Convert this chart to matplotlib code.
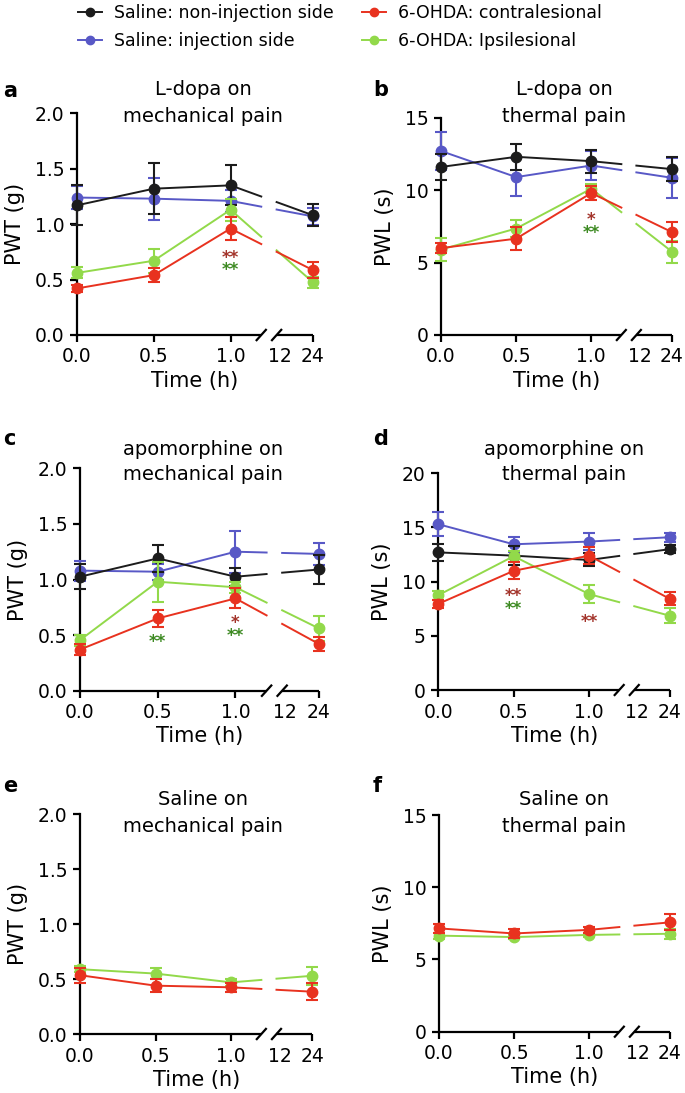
import matplotlib
matplotlib.use("Agg")
import matplotlib.pyplot as plt
import numpy as np

plt.rcParams['font.family'] = ['DejaVu Sans']

# ---- data (mean, SEM) ----
time_h = [0, 0.5, 1, 24]

# a: L-dopa, mechanical (PWT, g)
a_sal_non = [1.17, 1.32, 1.35, 1.08]
a_sal_non_err = [0.18, 0.23, 0.18, 0.10]
a_sal_inj = [1.24, 1.23, 1.21, 1.07]
a_sal_inj_err = [0.10, 0.19, 0.10, 0.08]
a_contra = [0.42, 0.54, 0.96, 0.585]
a_contra_err = [0.03, 0.06, 0.10, 0.07]
a_ipsi = [0.56, 0.67, 1.13, 0.475]
a_ipsi_err = [0.05, 0.11, 0.10, 0.05]

# b: L-dopa, thermal (PWL, s)
b_sal_non = [11.6, 12.3, 12.0, 11.45]
b_sal_non_err = [0.9, 0.9, 0.8, 0.85]
b_sal_inj = [12.7, 10.9, 11.7, 10.85]
b_sal_inj_err = [1.3, 1.3, 1.0, 1.4]
b_contra = [6.0, 6.65, 9.8, 7.1]
b_contra_err = [0.35, 0.8, 0.5, 0.7]
b_ipsi = [5.9, 7.35, 10.1, 5.75]
b_ipsi_err = [0.8, 0.6, 0.3, 0.75]

# c: apomorphine, mechanical
c_sal_non = [1.025, 1.19, 1.025, 1.09]
c_sal_non_err = [0.11, 0.12, 0.08, 0.13]
c_sal_inj = [1.08, 1.07, 1.25, 1.23]
c_sal_inj_err = [0.09, 0.07, 0.19, 0.10]
c_contra = [0.37, 0.65, 0.83, 0.42]
c_contra_err = [0.05, 0.08, 0.09, 0.06]
c_ipsi = [0.455, 0.98, 0.93, 0.56]
c_ipsi_err = [0.05, 0.18, 0.05, 0.11]

# d: apomorphine, thermal
d_sal_non = [12.7, 12.4, 12.0, 13.0]
d_sal_non_err = [0.8, 0.9, 0.6, 0.4]
d_sal_inj = [15.3, 13.45, 13.7, 14.1]
d_sal_inj_err = [1.1, 0.7, 0.8, 0.4]
d_contra = [7.95, 11.0, 12.4, 8.4]
d_contra_err = [0.4, 0.8, 0.8, 0.6]
d_ipsi = [8.75, 12.35, 8.85, 6.85]
d_ipsi_err = [0.4, 0.5, 0.8, 0.7]

# e: saline, mechanical
e_contra = [0.535, 0.44, 0.425, 0.385]
e_contra_err = [0.07, 0.06, 0.04, 0.08]
e_ipsi = [0.59, 0.55, 0.47, 0.53]
e_ipsi_err = [0.03, 0.05, 0.03, 0.08]

# f: saline, thermal
f_contra = [7.15, 6.8, 7.05, 7.57]
f_contra_err = [0.3, 0.3, 0.2, 0.55]
f_ipsi = [6.65, 6.55, 6.7, 6.78]
f_ipsi_err = [0.2, 0.15, 0.15, 0.35]

# significance marks: (x time, y, text, group)
a_stars = [(1, 0.74, '**', 'contra'), (1, 0.63, '**', 'ipsi')]
b_stars = [(1, 8.3, '*', 'contra'), (1, 7.36, '**', 'ipsi')]
c_stars = [(0.5, 0.48, '**', 'ipsi'), (1, 0.65, '*', 'contra'), (1, 0.54, '**', 'ipsi')]
d_stars = [(0.5, 9.15, '**', 'contra'), (0.5, 7.95, '**', 'ipsi'), (1, 6.77, '**', 'contra')]

legend_labels = ['Saline: non-injection side', 'Saline: injection side',
                 '6-OHDA: contralesional', '6-OHDA: Ipsilesional']

# ---- styling ----
C_BLACK = '#1c1c1c'
C_BLUE = '#5858c6'
C_RED = '#e8321f'
C_GREEN = '#92d94a'
STAR_COL = {'contra': '#a3342b', 'ipsi': '#3d8a22'}

P24 = 1.537      # axis position of the 24 h point (broken axis)
P12 = 1.32
GAP_L, GAP_R = 1.20, 1.30

W, H = 685, 1093
fig = plt.figure(figsize=(W / 100, H / 100), dpi=100)


def rect(l, t, r, b):
    return [l / W, 1 - b / H, (r - l) / W, (b - t) / H]


def to_pos(t):
    return t if t <= 1 else P24


def draw(ax, means, errs, color, z):
    pos = [to_pos(t) for t in time_h]
    ax.errorbar(pos, means, yerr=errs, fmt='none', ecolor=color, elinewidth=1.5,
                capsize=4, capthick=1.5, clip_on=False, zorder=z)
    ax.plot(pos[:3], means[:3], color=color, lw=1.4, clip_on=False, zorder=z)
    ya, yb = np.interp([GAP_L, GAP_R], [1.0, P24], [means[2], means[3]])
    ax.plot([1.0, GAP_L], [means[2], ya], color=color, lw=1.4, clip_on=False, zorder=z)
    ax.plot([GAP_R, P24], [yb, means[3]], color=color, lw=1.4, clip_on=False, zorder=z)
    ax.plot(pos, means, 'o', ms=7.5, color=color, mec=color, clip_on=False, zorder=z + 0.5)


def setup(ax, ymax, ystep, ylabel, fmt):
    ax.set_xlim(0, P24)
    ax.set_ylim(0, ymax)
    for s in ['top', 'right', 'bottom']:
        ax.spines[s].set_visible(False)
    ax.spines['left'].set_linewidth(1.6)
    yt = np.arange(0, ymax + ystep / 2, ystep)
    ax.set_yticks(yt)
    ax.set_yticklabels([fmt.format(v) for v in yt])
    ax.set_xticks([0, 0.5, 1.0, P24])
    ax.set_xticklabels(['0.0', '0.5', '1.0', '24'])
    ax.set_xticks([P12], minor=True)
    ax.set_xticklabels(['12'], minor=True)
    ax.tick_params(which='major', direction='out', length=5, width=1.6, labelsize=13.5, pad=4)
    ax.tick_params(axis='x', which='minor', length=0, labelsize=13.5, pad=9)
    ax.set_ylabel(ylabel, fontsize=15, labelpad=7)
    ax.set_xlabel('Time (h)', fontsize=15, labelpad=3)
    # broken x axis
    kw = dict(color='black', lw=1.6, clip_on=False, zorder=2.5, solid_capstyle='butt')
    ax.plot([0, GAP_L], [0, 0], **kw)
    ax.plot([GAP_R, P24], [0, 0], **kw)
    tr = ax.get_xaxis_transform()
    for c in (GAP_L, GAP_R):
        ax.plot([c - 0.035, c + 0.035], [-0.027, 0.027], transform=tr, **kw)


def stars(ax, marks):
    for t, y, txt, grp in marks:
        ax.annotate(txt, (to_pos(t), y), xytext=(0, -7.2), textcoords='offset points',
                    ha='center', va='baseline', fontsize=12, fontweight='bold',
                    color=STAR_COL[grp], zorder=6)


panels = [
    ('a', rect(77, 113.3, 313, 335), 2.0, 0.5, 'PWT (g)', '{:.1f}',
     [a_sal_inj, a_sal_non, a_ipsi, a_contra], [a_sal_inj_err, a_sal_non_err, a_ipsi_err, a_contra_err],
     [C_BLUE, C_BLACK, C_GREEN, C_RED], a_stars, ('L-dopa on', 'mechanical pain')),
    ('b', rect(441, 117.7, 672, 335), 15, 5, 'PWL (s)', '{:.0f}',
     [b_sal_inj, b_sal_non, b_ipsi, b_contra], [b_sal_inj_err, b_sal_non_err, b_ipsi_err, b_contra_err],
     [C_BLUE, C_BLACK, C_GREEN, C_RED], b_stars, ('L-dopa on', 'thermal pain')),
    ('c', rect(80, 468.3, 319, 690.7), 2.0, 0.5, 'PWT (g)', '{:.1f}',
     [c_sal_inj, c_sal_non, c_ipsi, c_contra], [c_sal_inj_err, c_sal_non_err, c_ipsi_err, c_contra_err],
     [C_BLUE, C_BLACK, C_GREEN, C_RED], c_stars, ('apomorphine on', 'mechanical pain')),
    ('d', rect(438.3, 473.3, 670, 690), 20, 5, 'PWL (s)', '{:.0f}',
     [d_sal_inj, d_sal_non, d_ipsi, d_contra], [d_sal_inj_err, d_sal_non_err, d_ipsi_err, d_contra_err],
     [C_BLUE, C_BLACK, C_GREEN, C_RED], d_stars, ('apomorphine on', 'thermal pain')),
    ('e', rect(80, 814.3, 312.3, 1034), 2.0, 0.5, 'PWT (g)', '{:.1f}',
     [e_ipsi, e_contra], [e_ipsi_err, e_contra_err],
     [C_GREEN, C_RED], [], ('Saline on', 'mechanical pain')),
    ('f', rect(439, 815, 670, 1031.7), 15, 5, 'PWL (s)', '{:.0f}',
     [f_ipsi, f_contra], [f_ipsi_err, f_contra_err],
     [C_GREEN, C_RED], [], ('Saline on', 'thermal pain')),
]

letter_pos = {'a': (3, 97), 'b': (373, 96), 'c': (3, 445), 'd': (373, 445),
              'e': (3, 792), 'f': (373, 792)}
title_base = {'a': (95, 121.7), 'b': (95, 121.7), 'c': (455, 480), 'd': (455, 480),
              'e': (805, 831.7), 'f': (805, 831.7)}

for i, (lab, r, ymax, ystep, ylab, fmt, series, errs, cols, marks, title) in enumerate(panels):
    ax = fig.add_axes(r)
    setup(ax, ymax, ystep, ylab, fmt)
    for k, (m, e, c) in enumerate(zip(series, errs, cols)):
        draw(ax, m, e, c, 3 + k)
    stars(ax, marks)
    tx = 203 if i % 2 == 0 else 564
    y1, y2 = title_base[lab]
    fig.text(tx / W, 1 - y1 / H, title[0], ha='center', va='baseline', fontsize=14)
    fig.text(tx / W, 1 - y2 / H, title[1], ha='center', va='baseline', fontsize=14)
    lx, ly = letter_pos[lab]
    fig.text(lx / W, 1 - ly / H, lab, ha='left', va='baseline', fontsize=15, fontweight='bold')

# legend
handles = []
for c in (C_BLACK, C_BLUE, C_RED, C_GREEN):
    h, = plt.plot([], [], '-o', color=c, lw=1.4, ms=6)
    handles.append(h)
fig.legend(handles, legend_labels, ncol=2, loc='upper left', bbox_to_anchor=(78 / W, 0.996),
           frameon=False, fontsize=12.5, handlelength=1.4, handletextpad=0.7,
           columnspacing=1.6, labelspacing=0.55, borderpad=0, borderaxespad=0)

fig.savefig('out.png', dpi=100)
